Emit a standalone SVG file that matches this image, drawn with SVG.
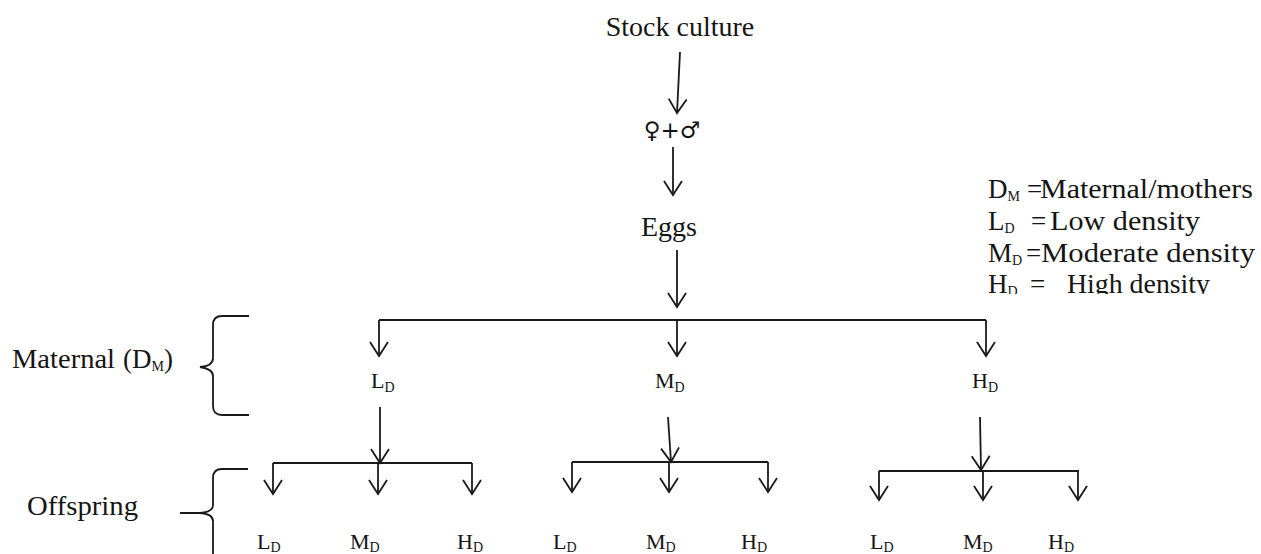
<svg xmlns="http://www.w3.org/2000/svg" width="1261" height="554" viewBox="0 0 1261 554">
<style>
text{font-family:"Liberation Serif",serif;fill:#151515}
.big{font-size:27px}
.lab{font-size:22px}
.sub{font-size:14px}
.leg{font-size:27px}
.ln{fill:none;stroke:#1a1a1a;stroke-width:1.8}
.ar{fill:none;stroke:#1a1a1a;stroke-width:1.8;marker-end:url(#v)}
</style>
<defs>
<marker id="v" markerUnits="userSpaceOnUse" orient="auto" refX="0" refY="0" markerWidth="30" markerHeight="30" viewBox="-20 -15 25 30" overflow="visible">
<path d="M-14,-9 L0,0 L-14,9" fill="none" stroke="#1a1a1a" stroke-width="1.8"/>
</marker>
<clipPath id="legclip"><rect x="960" y="160" width="301" height="134"/></clipPath>
</defs>
<rect width="1261" height="554" fill="#fff"/>

<g id="connectors">
<path class="ar" d="M680,52 L677,113"/>
<path class="ar" d="M673,147 L673,195"/>
<path class="ar" d="M677,250 L677,307"/>
<path class="ln" d="M379,320 L986,320"/>
<path class="ar" d="M379,320 L379,356"/>
<path class="ar" d="M677,320 L677,356"/>
<path class="ar" d="M986,320 L986,356"/>
<path class="ar" d="M380,407 L380,463"/>
<path class="ln" d="M273,463 L472,463"/>
<path class="ar" d="M273,463 L273,494"/>
<path class="ar" d="M378,463 L378,494"/>
<path class="ar" d="M472,463 L472,494"/>
<path class="ar" d="M668,417 L671,462"/>
<path class="ln" d="M572,462 L768,462"/>
<path class="ar" d="M572,462 L572,492"/>
<path class="ar" d="M669,462 L669,492"/>
<path class="ar" d="M768,462 L768,492"/>
<path class="ar" d="M980,417 L981,470"/>
<path class="ln" d="M879,471 L1079,471"/>
<path class="ar" d="M879,471 L879,500"/>
<path class="ar" d="M983,471 L983,500"/>
<path class="ar" d="M1078,471 L1078,500"/>
</g>

<g id="stock"><text x="680" y="36" text-anchor="middle" font-size="28">Stock culture</text></g>
<g id="parents"><text x="672" y="138" text-anchor="middle" style="font-family:'DejaVu Sans',sans-serif;font-size:23px">♀+♂</text></g>
<g id="eggs"><text x="669" y="236" text-anchor="middle" font-size="28">Eggs</text></g>

<g id="legend" clip-path="url(#legclip)">
<text class="leg" x="988" y="198">D<tspan class="sub" dy="3">M</tspan></text>
<text class="leg" x="1027" y="198">=</text>
<text class="leg" x="1040" y="198" textLength="213" lengthAdjust="spacingAndGlyphs">Maternal/mothers</text>
<text class="leg" x="988" y="230">L<tspan class="sub" dy="3">D</tspan></text>
<text class="leg" x="1031" y="230">=</text>
<text class="leg" x="1050" y="230" textLength="150" lengthAdjust="spacingAndGlyphs">Low density</text>
<text class="leg" x="988" y="262">M<tspan class="sub" dy="3">D</tspan></text>
<text class="leg" x="1026" y="262">=</text>
<text class="leg" x="1041" y="262" textLength="214" lengthAdjust="spacingAndGlyphs">Moderate density</text>
<text class="leg" x="988" y="293">H<tspan class="sub" dy="3">D</tspan></text>
<text class="leg" x="1030" y="293">=</text>
<text class="leg" x="1067" y="293" textLength="143" lengthAdjust="spacingAndGlyphs">High density</text>
</g>

<g id="maternal-label">
<text class="big" x="12" y="368" textLength="103" lengthAdjust="spacingAndGlyphs">Maternal</text>
<text class="big" x="123" y="368">(D<tspan class="sub" dy="3">M</tspan><tspan dy="-3">)</tspan></text>
<path class="ln" d="M249,316 L222,316 Q213,316 213,325 L213,358 Q213,366 200,367 Q213,369 213,376 L213,406 Q213,415 222,415 L249,415"/>
</g>

<g id="offspring-label">
<text class="big" x="27" y="515" textLength="111" lengthAdjust="spacingAndGlyphs">Offspring</text>
<path class="ln" d="M248,469 L222,469 Q213,469 213,478 L213,505 Q213,512 200,513 L180,513 M200,513 Q213,514 213,521 L213,560"/>
</g>

<g id="m-LD"><text class="lab" x="371" y="388">L<tspan class="sub" dy="4">D</tspan></text></g>
<g id="m-MD"><text class="lab" x="655" y="388">M<tspan class="sub" dy="4">D</tspan></text></g>
<g id="m-HD"><text class="lab" x="972" y="388">H<tspan class="sub" dy="4">D</tspan></text></g>

<g id="o1-LD"><text class="lab" x="257" y="549">L<tspan class="sub" dy="3">D</tspan></text></g>
<g id="o1-MD"><text class="lab" x="350" y="549">M<tspan class="sub" dy="3">D</tspan></text></g>
<g id="o1-HD"><text class="lab" x="457" y="549">H<tspan class="sub" dy="3">D</tspan></text></g>
<g id="o2-LD"><text class="lab" x="553" y="549">L<tspan class="sub" dy="3">D</tspan></text></g>
<g id="o2-MD"><text class="lab" x="646" y="549">M<tspan class="sub" dy="3">D</tspan></text></g>
<g id="o2-HD"><text class="lab" x="741" y="549">H<tspan class="sub" dy="3">D</tspan></text></g>
<g id="o3-LD"><text class="lab" x="870" y="549">L<tspan class="sub" dy="3">D</tspan></text></g>
<g id="o3-MD"><text class="lab" x="963" y="549">M<tspan class="sub" dy="3">D</tspan></text></g>
<g id="o3-HD"><text class="lab" x="1048" y="549">H<tspan class="sub" dy="3">D</tspan></text></g>
</svg>
